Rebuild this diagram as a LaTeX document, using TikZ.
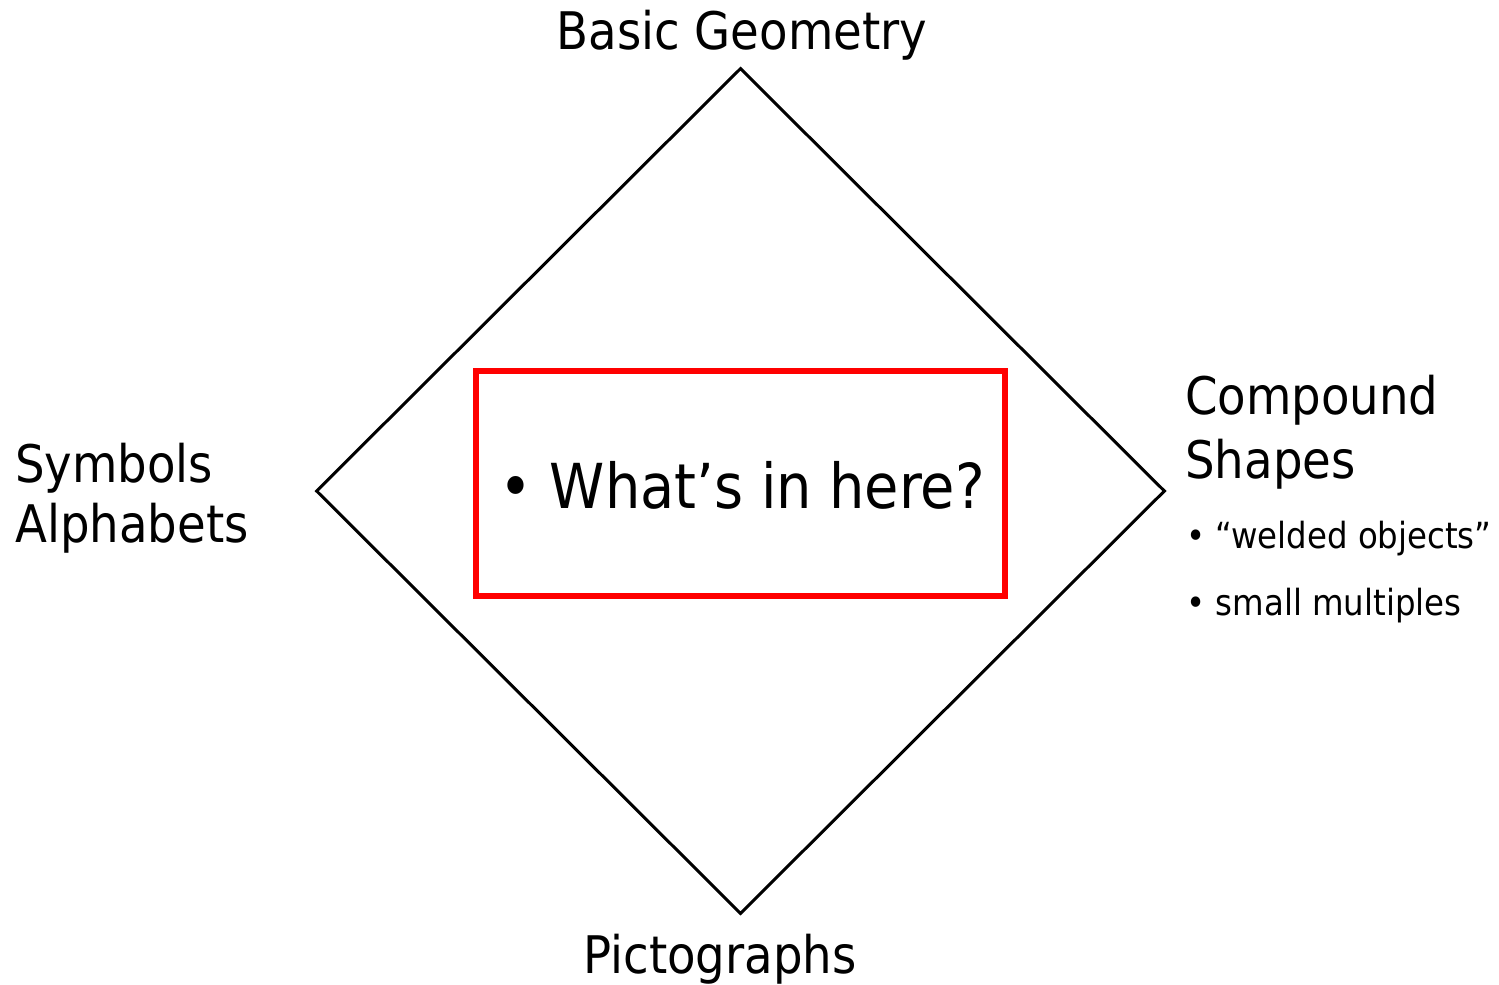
\documentclass[tikz,border=0pt]{standalone}
\usepackage{fontspec}
\setmainfont{DejaVu Sans Condensed}
\usetikzlibrary{positioning,shapes.geometric}
\definecolor{ink}{HTML}{000000}
\definecolor{alert}{HTML}{FF0000}
\tikzset{
  frame/.style={diamond,draw=ink,line width=1.5pt,inner sep=0pt,aspect=1},
  hilite/.style={draw=alert,line width=3pt,inner sep=0pt},
  corner/.style={inner sep=0pt,font=\fontsize{25.9}{31}\selectfont,text=ink,align=left},
  sub/.style={inner sep=0pt,font=\fontsize{18}{22}\selectfont,text=ink},
  big/.style={inner sep=0pt,font=\fontsize{31}{36}\selectfont,text=ink},
}
\begin{document}
\begin{tikzpicture}[x=0.5pt,y=-0.5pt]
  \useasboundingbox (0,0) rectangle (1499,985);
  \node[frame,minimum width=424.5pt,minimum height=423pt] (dia) at (740.5,491) {};
  \node[hilite,minimum width=264.5pt,minimum height=112.5pt] (box) at (740.5,483.5) {};
  \node[big,anchor=base] (q) at (742,508) {\textbullet\ What’s in here?};
  % corner labels
  \node[corner,anchor=base] (geo) at (742,49) {Basic Geometry};
  \node[corner,anchor=base] (pic) at (720,973) {Pictographs};
  \node[corner,anchor=base west] (sym) at (15,482) {Symbols};
  \node[corner,anchor=base west] (alp) at (15,542) {Alphabets};
  \node[corner,anchor=base west] (cmp) at (1185,414) {Compound};
  \node[corner,anchor=base west] (shp) at (1185,478) {Shapes};
  \node[sub,anchor=base west] (wld) at (1186,548) {\textbullet\ “welded objects”};
  \node[sub,anchor=base west] (sml) at (1186,615) {\textbullet\ small multiples};
\end{tikzpicture}
\end{document}
